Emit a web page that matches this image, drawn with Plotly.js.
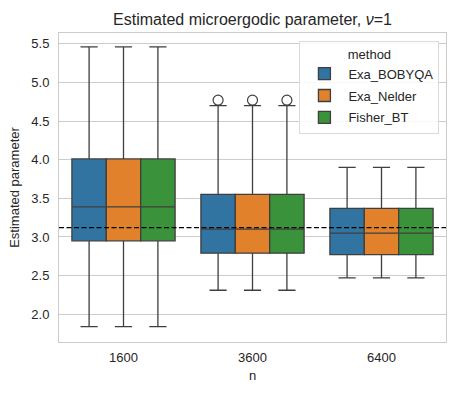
<!DOCTYPE html>
<html>
<head>
<meta charset="utf-8">
<script src="https://cdn.plot.ly/plotly-3.0.1.min.js"></script>
<style>
  html, body { margin: 0; padding: 0; background: #fff; }
  #chart { width: 456px; height: 394px; }
</style>
</head>
<body>
<div id="chart"></div>
<script>
// sample sizes and methods
var nLabels = ["1600", "3600", "6400"];
var methods = ["Exa_BOBYQA", "Exa_Nelder", "Fisher_BT"];
var colors = ["#3274a1", "#e1812c", "#3a923a"];

// box summary per n (same for all three methods)
var lowWhisker = [1.84, 2.31, 2.47];
var q1Vals = [2.95, 2.79, 2.77];
var medianVals = [3.39, 3.10, 3.05];
var q3Vals = [4.01, 3.55, 3.37];
var highWhisker = [5.46, 4.70, 3.90];

// outliers (only at n=3600)
var outlierN = ["3600"];
var outlierVals = [4.77];

// true parameter value (dashed line)
var trueValue = 3.12;

var edge = "#3f3f3f";
var traces = [];

methods.forEach(function (m, i) {
    traces.push({
        type: "box",
        name: m,
        legendgroup: m,
        x: nLabels,
        q1: q1Vals,
        median: medianVals,
        q3: q3Vals,
        lowerfence: lowWhisker,
        upperfence: highWhisker,
        fillcolor: colors[i],
        line: { color: edge, width: 1.3 },
        whiskerwidth: 0.5,
        boxpoints: false,
        offsetgroup: m,
        hoverinfo: "skip"
    });
});

methods.forEach(function (m, i) {
    traces.push({
        type: "scatter",
        mode: "markers",
        legendgroup: m,
        x: outlierN,
        y: outlierVals,
        offsetgroup: m,
        showlegend: false,
        marker: { symbol: "circle-open", size: 10, color: edge, line: { width: 1.2, color: edge } },
        hoverinfo: "skip"
    });
});

var layout = {
    width: 456,
    height: 394,
    margin: { l: 59, r: 10, t: 33, b: 52 },
    paper_bgcolor: "#ffffff",
    plot_bgcolor: "#ffffff",
    font: { family: "Liberation Sans, Arial, sans-serif", size: 13, color: "#262626" },
    title: {
        text: "Estimated microergodic parameter, <i>ν</i>=1",
        font: { size: 16, color: "#262626" },
        x: 0.5, xref: "paper", xanchor: "center",
        y: 0.952, yref: "container", yanchor: "middle"
    },
    boxmode: "group",
    boxgap: 0.2,
    boxgroupgap: 0,
    scattermode: "group",
    scattergap: 0.2,
    xaxis: {
        type: "category",
        range: [-0.5, 2.5],
        title: { text: "n", font: { size: 13 }, standoff: 7 },
        showgrid: false,
        zeroline: false,
        showline: true, mirror: true, linecolor: "#cccccc", linewidth: 1,
        ticks: "", ticklabelstandoff: 3
    },
    yaxis: {
        range: [1.64, 5.64],
        dtick: 0.5,
        tick0: 0,
        tickformat: ".1f",
        title: { text: "Estimated parameter", font: { size: 13 }, standoff: 8 },
        showgrid: true, gridcolor: "#cccccc", gridwidth: 1,
        zeroline: false,
        showline: true, mirror: true, linecolor: "#cccccc", linewidth: 1,
        ticks: "", ticklabelstandoff: 6
    },
    legend: {
        x: 0.983, y: 0.975, xanchor: "right", yanchor: "top",
        bgcolor: "rgba(255,255,255,0.85)",
        bordercolor: "#dadada", borderwidth: 1,
        font: { size: 13 },
        itemwidth: 38,
        title: { text: "method", side: "top center", font: { size: 13 } },
        tracegroupgap: 2
    },
    shapes: [{
        type: "line",
        xref: "paper", x0: 0, x1: 1,
        yref: "y", y0: trueValue, y1: trueValue,
        line: { color: "#000000", width: 1.3, dash: "5px,2.5px" },
        layer: "above"
    }]
};

Plotly.newPlot("chart", traces, layout, { displayModeBar: false, staticPlot: true });
</script>
</body>
</html>
